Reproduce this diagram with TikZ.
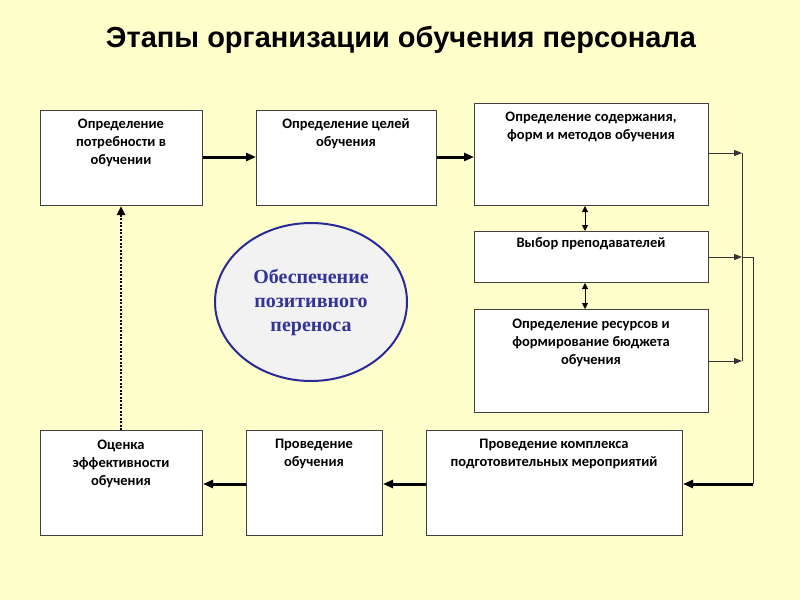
\documentclass[tikz,border=0pt]{standalone}
\usepackage{fontspec}
\setmainfont{Carlito}
\newfontfamily\titlefont{Liberation Sans}
\newfontfamily\serif{Liberation Serif}
\usetikzlibrary{arrows.meta,shapes.geometric}
\definecolor{bg}{HTML}{FFFFCC}
\definecolor{circ}{HTML}{F2F2F2}
\definecolor{navy}{HTML}{2A2A96}
\definecolor{ntext}{HTML}{333399}
\begin{document}
\begin{tikzpicture}[x=1pt,y=-1pt,
 box/.style={draw=black!75,fill=white,line width=1pt,inner sep=0pt},
 bt/.style={font=\bfseries\fontsize{14.5}{18}\selectfont,align=center,anchor=north},
 thick arr/.style={-{Triangle[length=10pt,width=8pt]},line width=3pt},
 thin arr/.style={-{Triangle[length=8pt,width=6pt]},line width=1pt,draw=black!80},
 dbl arr/.style={{Triangle[length=6pt,width=6pt]}-{Triangle[length=6pt,width=6pt]},line width=1pt}]
\fill[bg] (0,0) rectangle (800,600);
\useasboundingbox (0,0) rectangle (800,600);
\node[font=\titlefont\bfseries\fontsize{29}{33}\selectfont] (title) at (401,40) {Этапы организации обучения персонала};
\def\bx#1#2#3#4#5{\node[box,minimum width=#4-#2,minimum height=#5-#3,anchor=north west] (#1) at (#2,#3) {};}
\bx{b1}{40}{110}{202}{205}
\bx{b2}{256}{110}{436}{205}
\bx{b3}{474}{103}{708}{205}
\bx{b4}{474}{231}{708}{282}
\bx{b5}{474}{309}{708}{412}
\bx{b6}{426}{430}{682}{535}
\bx{b7}{246}{430}{382}{535}
\bx{b8}{40}{430}{202}{535}
\node[bt] (t1) at (121,115) {Определение\\потребности в\\обучении};
\node[bt] (t2) at (346,115) {Определение целей\\обучения};
\node[bt] (t3) at (591,108) {Определение содержания,\\форм и методов обучения};
\node[bt] (t4) at (591,234) {Выбор преподавателей};
\node[bt] (t5) at (591,315) {Определение ресурсов и\\формирование бюджета\\обучения};
\node[bt] (t6) at (554,436) {Проведение комплекса\\подготовительных мероприятий};
\node[bt] (t7) at (314,436) {Проведение\\обучения};
\node[bt] (t8) at (121,436) {Оценка\\эффективности\\обучения};
\node[ellipse,draw=navy,fill=circ,line width=2pt,minimum width=192,minimum height=158,inner sep=0pt,
 font=\serif\bfseries\fontsize{20}{24}\selectfont,text=ntext,align=center] (c) at (311,302) {Обеспечение\\позитивного\\переноса};
% arrows
\draw[thick arr] (b1.east|-0,157) -- (b2.west|-0,157);
\draw[thick arr] (b2.east|-0,157) -- (b3.west|-0,157);
\draw[dbl arr] (b3.south-|585,0) -- (b4.north-|585,0);
\draw[dbl arr] (b4.south-|585,0) -- (b5.north-|585,0);
\coordinate (j1) at (742,153);
\coordinate (j2) at (742,257);
\coordinate (j3) at (742,361);
\coordinate (k1) at (753,257);
\coordinate (k2) at (753,484);
\draw[thin arr] (b3.east|-j1) -- (j1);
\draw[thin arr] (b4.east|-j2) -- (j2);
\draw[thin arr] (b5.east|-j3) -- (j3);
\draw[line width=1pt,draw=black!80] (j1) -- (j3);
\draw[line width=1pt,draw=black!80] (j2) -- (k1) -- (k2);
\draw[thick arr] (k2) -- (b6.east|-k2);
\draw[thick arr] (b6.west|-0,484) -- (b7.east|-0,484);
\draw[thick arr] (b7.west|-0,484) -- (b8.east|-0,484);
\draw[-{Triangle[length=9pt,width=8pt]},line width=2.5pt,dash pattern=on 2pt off 1.5pt] (b8.north-|121,0) -- (b1.south-|121,0);
\end{tikzpicture}
\end{document}
